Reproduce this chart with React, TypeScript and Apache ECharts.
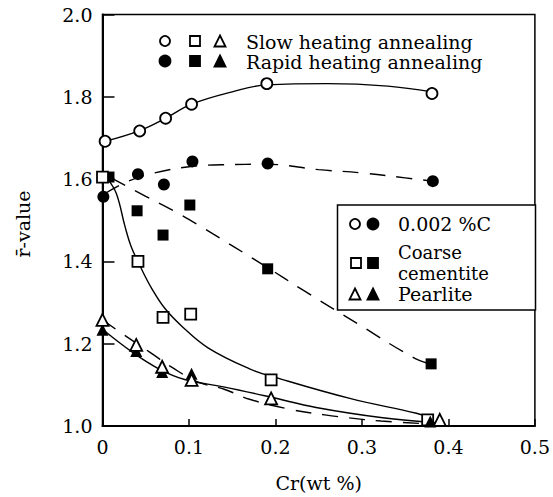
import React, { useEffect, useRef } from "react";
import * as echarts from "echarts";

// Measured points (x = Cr wt%, y = r-value)
const slowCX = [0.003, 0.043, 0.073, 0.103, 0.19, 0.381];
const slowCY = [1.692, 1.717, 1.748, 1.782, 1.832, 1.808];
const rapidCX = [0.001, 0.041, 0.071, 0.104, 0.191, 0.382];
const rapidCY = [1.557, 1.612, 1.587, 1.643, 1.638, 1.595];
const slowCemX = [0.0, 0.041, 0.07, 0.102, 0.195, 0.376];
const slowCemY = [1.605, 1.4, 1.264, 1.272, 1.112, 1.015];
const rapidCemX = [0.0075, 0.04, 0.07, 0.101, 0.191, 0.38];
const rapidCemY = [1.605, 1.523, 1.464, 1.537, 1.382, 1.151];
const slowPearX = [0.0, 0.039, 0.069, 0.103, 0.195, 0.39];
const slowPearY = [1.258, 1.197, 1.144, 1.112, 1.067, 1.015];
const rapidPearX = [0.0, 0.039, 0.069, 0.103, 0.379];
const rapidPearY = [1.234, 1.182, 1.131, 1.127, 1.011];

// Fitted curves
const curveSlowCX = [0.003, 0.043, 0.073, 0.103, 0.15, 0.19, 0.26, 0.33, 0.381];
const curveSlowCY = [1.692, 1.718, 1.748, 1.782, 1.812, 1.829, 1.832, 1.826, 1.812];
const curveRapidCX = [0.003, 0.03, 0.06, 0.1, 0.14, 0.19, 0.25, 0.3, 0.35, 0.382];
const curveRapidCY = [1.565, 1.595, 1.615, 1.63, 1.635, 1.636, 1.623, 1.615, 1.603, 1.595];
const curveSlowCemX = [0.006, 0.016, 0.026, 0.033, 0.045, 0.057, 0.072, 0.092, 0.122, 0.17, 0.2, 0.286, 0.363, 0.376];
const curveSlowCemY = [1.6, 1.565, 1.485, 1.437, 1.382, 1.334, 1.286, 1.242, 1.19, 1.139, 1.118, 1.067, 1.031, 1.022];
const curveRapidCemX = [0.01, 0.05, 0.085, 0.115, 0.19, 0.232, 0.297, 0.359, 0.38];
const curveRapidCemY = [1.603, 1.558, 1.52, 1.483, 1.386, 1.33, 1.246, 1.167, 1.15];
const curveSlowPearX = [0.0, 0.034, 0.065, 0.095, 0.14, 0.195, 0.247, 0.324, 0.385];
const curveSlowPearY = [1.235, 1.18, 1.139, 1.113, 1.095, 1.07, 1.045, 1.02, 1.008];
const curveRapidPearX = [0.0, 0.03, 0.055, 0.08, 0.11, 0.14, 0.17, 0.218, 0.257, 0.284, 0.322, 0.38];
const curveRapidPearY = [1.258, 1.214, 1.179, 1.143, 1.107, 1.09, 1.065, 1.04, 1.027, 1.02, 1.012, 1.005];

const xTicks = [0, 0.1, 0.2, 0.3, 0.4, 0.5];
const yTicks = [1.0, 1.2, 1.4, 1.6, 1.8, 2.0];

const FONT = "DejaVu Serif";

const zip = (xs: number[], ys: number[]) => xs.map((x, i) => [x, ys[i]]);

function tri(cx: number, cy: number, s: number, filled: boolean) {
  return {
    type: "polygon",
    shape: { points: [[cx, cy - s / 2], [cx + s / 2, cy + s / 2], [cx - s / 2, cy + s / 2]] },
    style: { fill: filled ? "#000" : "#fff", stroke: "#000", lineWidth: 1.8 },
    z: 100,
  };
}
function circ(cx: number, cy: number, r: number, filled: boolean) {
  return {
    type: "circle",
    shape: { cx, cy, r },
    style: { fill: filled ? "#000" : "#fff", stroke: "#000", lineWidth: 1.8 },
    z: 100,
  };
}
function sq(cx: number, cy: number, s: number, filled: boolean) {
  return {
    type: "rect",
    shape: { x: cx - s / 2, y: cy - s / 2, width: s, height: s },
    style: { fill: filled ? "#000" : "#fff", stroke: "#000", lineWidth: 1.8 },
    z: 100,
  };
}
function txt(x: number, y: number, text: string, size = 19) {
  return {
    type: "text",
    x,
    y,
    style: { text, fill: "#000", font: `${size}px "${FONT}"`, align: "left", verticalAlign: "middle" },
    z: 100,
  };
}

export default function App() {
  const ref = useRef<HTMLDivElement>(null);
  useEffect(() => {
    if (!ref.current) return;
    const chart = echarts.init(ref.current, undefined, { renderer: "svg" });
    const markerSeries = (name: string, data: number[][], symbol: string, size: number, filled: boolean) => ({
      name,
      type: "scatter",
      data,
      symbol,
      symbolSize: size,
      itemStyle: {
        color: filled ? "#000" : "#fff",
        borderColor: "#000",
        borderWidth: filled ? 0 : 1.8,
        opacity: 1,
      },
      z: 5,
      silent: true,
    });
    const curveSeries = (data: number[][], dashed: boolean) => ({
      type: "line",
      data,
      smooth: 0.4,
      symbol: "none",
      lineStyle: { color: "#000", width: 1.4, type: dashed ? [16, 11] : "solid" },
      z: 2,
      silent: true,
    });
    chart.setOption({
      animation: false,
      backgroundColor: "#fff",
      grid: {
        left: 102.5,
        right: 17.5,
        top: 14.5,
        bottom: 64,
        show: true,
        borderColor: "#000",
        borderWidth: 1.5,
      },
      xAxis: {
        type: "value",
        min: xTicks[0],
        max: xTicks[xTicks.length - 1],
        interval: 0.1,
        axisLine: { show: true, lineStyle: { color: "#000", width: 2 } },
        axisTick: { show: true, inside: true, length: 7, lineStyle: { color: "#000", width: 1.5 } },
        axisLabel: {
          color: "#000",
          fontFamily: FONT,
          fontSize: 19,
          margin: 11,
          formatter: (v: number) => (v === 0 ? "0" : v.toFixed(1)),
        },
        splitLine: { show: false },
        name: "Cr(wt %)",
        nameLocation: "middle",
        nameGap: 47,
        nameTextStyle: { color: "#000", fontFamily: FONT, fontSize: 19 },
      },
      yAxis: {
        type: "value",
        min: yTicks[0],
        max: yTicks[yTicks.length - 1],
        interval: 0.2,
        axisLine: { show: true, lineStyle: { color: "#000", width: 2 } },
        axisTick: { show: true, inside: true, length: 12, lineStyle: { color: "#000", width: 1.5 } },
        axisLabel: {
          color: "#000",
          fontFamily: FONT,
          fontSize: 19,
          margin: 10,
          formatter: (v: number) => v.toFixed(1),
        },
        splitLine: { show: false },
      },
      graphic: [
        {
          type: "text",
          x: 23,
          y: 224,
          rotation: Math.PI / 2,
          style: {
            text: "r\u0304-value",
            fill: "#000",
            font: `19px "${FONT}"`,
            align: "center",
            verticalAlign: "middle",
          },
        },
        // top legend
        circ(165, 41, 5, false),
        sq(195, 41, 10, false),
        tri(220, 41, 11, false),
        txt(246, 42, "Slow heating annealing"),
        circ(165, 61, 5.5, true),
        sq(195, 61, 10, true),
        tri(220, 61, 11, true),
        txt(246, 62, "Rapid heating annealing"),
        // boxed legend
        {
          type: "rect",
          shape: { x: 337.5, y: 205, width: 198, height: 105 },
          style: { fill: "#fff", stroke: "#000", lineWidth: 1.5 },
          z: 90,
        },
        circ(355, 224, 5, false),
        circ(373, 224, 5.5, true),
        txt(398, 224, "0.002 %C"),
        sq(356, 263, 10, false),
        sq(373, 263, 10, true),
        txt(398, 252, "Coarse", 18),
        txt(398, 273, "cementite", 18),
        tri(355, 294, 11, false),
        tri(373, 294, 11, true),
        txt(398, 294, "Pearlite"),
      ],
      series: [
        curveSeries(zip(curveSlowCX, curveSlowCY), false),
        curveSeries(zip(curveRapidCX, curveRapidCY), true),
        curveSeries(zip(curveSlowCemX, curveSlowCemY), false),
        curveSeries(zip(curveRapidCemX, curveRapidCemY), true),
        curveSeries(zip(curveSlowPearX, curveSlowPearY), false),
        curveSeries(zip(curveRapidPearX, curveRapidPearY), true),
        markerSeries("Rapid 0.002%C", zip(rapidCX, rapidCY), "circle", 12, true),
        markerSeries("Slow 0.002%C", zip(slowCX, slowCY), "circle", 11, false),
        markerSeries("Rapid coarse cementite", zip(rapidCemX, rapidCemY), "rect", 11, true),
        markerSeries("Slow coarse cementite", zip(slowCemX, slowCemY), "rect", 11, false),
        markerSeries("Rapid pearlite", zip(rapidPearX, rapidPearY), "triangle", 12, true),
        markerSeries("Slow pearlite", zip(slowPearX, slowPearY), "triangle", 12, false),
      ],
    });
    return () => chart.dispose();
  }, []);
  return (
    <div
      ref={ref}
      style={{ position: "fixed", left: 0, top: 0, width: 553, height: 497, background: "#fff" }}
    />
  );
}
